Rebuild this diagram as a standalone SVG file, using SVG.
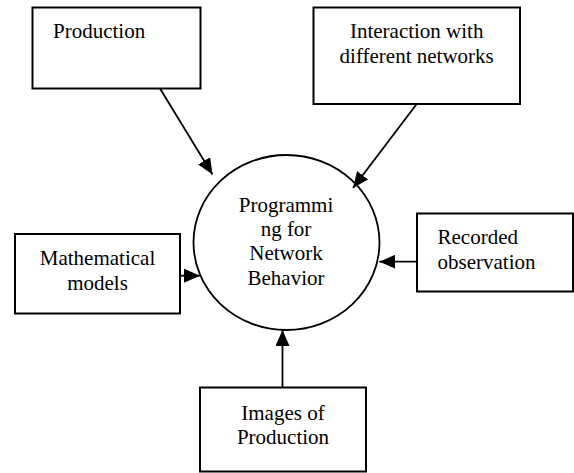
<svg xmlns="http://www.w3.org/2000/svg" width="574" height="473" viewBox="0 0 574 473">
<style>
.box{fill:#fff;stroke:#000;stroke-width:2}
text{font-family:'Liberation Serif','Times New Roman',serif;font-size:21px;fill:#000}
.c{text-anchor:middle}
.e{fill:none;stroke:#000;stroke-width:1.8;marker-end:url(#ah)}
</style>
<defs>
<marker id="ah" markerUnits="userSpaceOnUse" markerWidth="16" markerHeight="14" refX="16" refY="7" orient="auto">
<path d="M0,0 L16,7 L0,14 Z" fill="#000"/>
</marker>
</defs>
<rect width="574" height="473" fill="#fff"/>
<g id="center">
<ellipse cx="286.5" cy="242.5" rx="93" ry="87.5" fill="#fff" stroke="#000" stroke-width="1.8"/>
<text class="c" x="286" y="212">Programmi</text>
<text class="c" x="286" y="236">ng for</text>
<text class="c" x="286" y="260">Network</text>
<text class="c" x="286" y="285">Behavior</text>
</g>
<g id="production">
<rect class="box" x="32.5" y="7.5" width="168" height="81"/>
<text x="53" y="38">Production</text>
</g>
<g id="interaction">
<rect class="box" x="313.5" y="7.5" width="206.5" height="96.5"/>
<text class="c" x="416.7" y="38">Interaction with</text>
<text class="c" x="416.7" y="62.5">different networks</text>
</g>
<g id="mathematical">
<rect class="box" x="15" y="234" width="165" height="79.5"/>
<text class="c" x="97.5" y="265">Mathematical</text>
<text class="c" x="97.5" y="289.5">models</text>
</g>
<g id="recorded">
<rect class="box" x="417" y="213.5" width="156" height="78"/>
<text x="437.5" y="243.5">Recorded</text>
<text x="437.5" y="269">observation</text>
</g>
<g id="images">
<rect class="box" x="200" y="387.5" width="166" height="84"/>
<text class="c" x="283" y="419.5">Images of</text>
<text class="c" x="283" y="443.5">Production</text>
</g>
<g id="connectors">
<line class="e" x1="160" y1="88.5" x2="212.5" y2="174.5"/>
<line class="e" x1="416.7" y1="104" x2="353" y2="188"/>
<line class="e" x1="180" y1="275.7" x2="200" y2="275.7"/>
<line class="e" x1="417" y1="261.7" x2="379.3" y2="261.7"/>
<line class="e" x1="282.5" y1="387.5" x2="282.5" y2="330"/>
</g>
</svg>
